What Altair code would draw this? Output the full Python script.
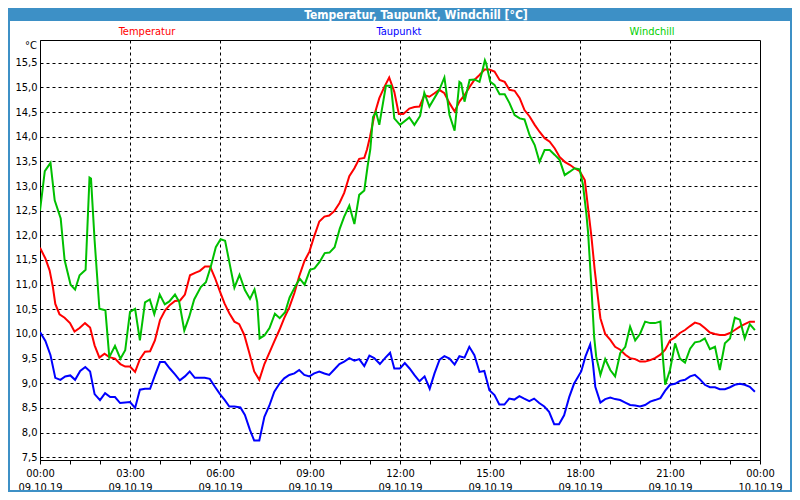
import altair as alt
import pandas as pd

# ---- data (hours since 09.10.19 00:00, °C) ----
temp_t = [0.0,0.18,0.32,0.43,0.51,0.65,0.82,1.0,1.15,1.32,1.5,1.67,1.82,1.98,2.15,2.31,2.5,2.68,2.84,3.0,
          3.17,3.33,3.5,3.67,3.83,4.0,4.17,4.33,4.5,4.67,4.83,5.0,5.17,5.33,5.5,5.67,5.83,6.0,6.15,6.31,
          6.48,6.64,6.81,6.98,7.14,7.31,7.48,7.64,7.81,7.98,8.14,8.31,8.48,8.64,8.81,8.98,9.14,9.31,9.48,9.64,
          9.81,9.98,10.14,10.31,10.48,10.64,10.81,10.9,11.0,11.15,11.31,11.48,11.64,11.81,11.96,12.11,12.31,12.48,12.65,12.81,
          12.98,13.15,13.31,13.48,13.65,13.82,13.98,14.15,14.32,14.48,14.65,14.82,14.98,15.15,15.32,15.49,15.65,15.82,15.99,16.15,
          16.32,16.49,16.65,16.82,16.99,17.16,17.32,17.49,17.66,17.82,17.99,18.16,18.27,18.38,18.49,18.58,18.68,18.84,19.01,19.17,
          19.34,19.51,19.67,19.84,20.0,20.17,20.34,20.5,20.68,20.84,21.0,21.17,21.33,21.5,21.67,21.83,22.0,22.16,22.33,22.5,
          22.66,22.83,23.0,23.16,23.33,23.49,23.66,23.83]
temp_v = [11.75,11.53,11.29,10.95,10.61,10.4,10.33,10.22,10.05,10.12,10.22,10.13,9.77,9.52,9.6,9.53,9.5,9.39,9.34,9.34,
          9.23,9.49,9.64,9.65,9.87,10.28,10.48,10.59,10.67,10.68,10.8,11.19,11.24,11.28,11.37,11.37,11.14,10.86,10.62,10.42,
          10.25,10.2,9.98,9.61,9.24,9.07,9.39,9.61,9.85,10.08,10.32,10.54,10.83,11.17,11.47,11.67,11.98,12.28,12.38,12.4,
          12.49,12.65,12.86,13.2,13.36,13.55,13.57,13.74,14.0,14.45,14.78,15.01,15.2,14.91,14.46,14.46,14.57,14.6,14.61,14.84,
          14.81,14.88,14.95,14.88,14.68,14.51,14.71,14.84,15.01,15.15,15.25,15.36,15.36,15.32,15.15,15.11,14.95,14.93,14.78,14.54,
          14.41,14.24,14.1,13.97,13.9,13.76,13.59,13.49,13.43,13.36,13.3,13.12,12.55,11.98,11.3,10.83,10.32,10.0,9.88,9.74,
          9.68,9.58,9.51,9.49,9.44,9.44,9.47,9.51,9.58,9.68,9.87,9.93,10.02,10.08,10.16,10.23,10.2,10.12,10.03,10.0,
          9.98,9.98,10.02,10.08,10.15,10.2,10.25,10.25]

dew_t = [0.0,0.18,0.35,0.51,0.68,0.84,1.01,1.17,1.34,1.51,1.67,1.82,2.0,2.17,2.34,2.5,2.67,2.84,3.0,3.17,
         3.33,3.5,3.67,3.83,4.0,4.16,4.33,4.5,4.66,4.83,4.99,5.16,5.33,5.49,5.66,5.83,6.0,6.16,6.31,6.48,
         6.68,6.83,7.0,7.14,7.31,7.48,7.64,7.81,7.98,8.14,8.31,8.48,8.64,8.81,8.98,9.14,9.31,9.48,9.64,9.81,
         9.98,10.14,10.31,10.48,10.64,10.81,10.98,11.14,11.33,11.5,11.67,11.81,12.0,12.16,12.32,12.49,12.65,12.82,12.99,13.15,
         13.32,13.48,13.65,13.82,13.98,14.15,14.31,14.48,14.65,14.81,14.98,15.15,15.31,15.48,15.64,15.81,15.98,16.14,16.31,16.47,
         16.64,16.81,16.97,17.14,17.3,17.47,17.64,17.8,18.04,18.18,18.34,18.43,18.51,18.68,18.84,19.01,19.17,19.34,19.51,19.67,
         19.84,20.0,20.17,20.34,20.5,20.68,20.84,21.0,21.17,21.33,21.5,21.67,21.83,22.0,22.16,22.33,22.5,22.66,22.83,23.0,
         23.16,23.33,23.49,23.66,23.83]
dew_v = [10.04,9.86,9.57,9.11,9.07,9.14,9.16,9.07,9.25,9.33,9.24,8.78,8.66,8.8,8.72,8.72,8.6,8.61,8.62,8.5,
         8.87,8.89,8.89,9.16,9.43,9.43,9.3,9.18,9.06,9.14,9.24,9.11,9.11,9.11,9.09,8.93,8.78,8.66,8.53,8.53,
         8.51,8.36,8.05,7.84,7.84,8.32,8.54,8.83,8.99,9.1,9.17,9.2,9.27,9.17,9.14,9.2,9.24,9.2,9.17,9.28,
         9.39,9.44,9.51,9.46,9.49,9.35,9.56,9.51,9.39,9.51,9.62,9.3,9.3,9.41,9.3,9.16,9.04,9.14,8.89,9.2,
         9.48,9.55,9.5,9.38,9.55,9.52,9.74,9.57,9.23,9.25,8.86,8.76,8.57,8.57,8.69,8.67,8.74,8.69,8.64,8.69,
         8.6,8.53,8.42,8.17,8.17,8.35,8.72,8.99,9.24,9.54,9.79,9.41,8.93,8.61,8.68,8.71,8.68,8.66,8.61,8.56,
         8.55,8.53,8.56,8.63,8.66,8.7,8.85,8.97,8.99,9.05,9.07,9.14,9.17,9.08,8.97,8.92,8.92,8.88,8.88,8.92,
         8.97,8.99,8.97,8.93,8.83]

wind_t = [0.0,0.16,0.35,0.49,0.69,0.82,1.02,1.17,1.32,1.52,1.65,1.7,1.82,1.98,2.18,2.31,2.5,2.68,2.84,3.0,
          3.17,3.33,3.5,3.66,3.81,3.99,4.16,4.31,4.5,4.64,4.81,4.97,5.14,5.36,5.53,5.69,5.86,6.02,6.17,6.48,
          6.65,6.83,7.0,7.15,7.24,7.32,7.48,7.65,7.83,7.99,8.17,8.32,8.52,8.66,8.82,9.0,9.15,9.32,9.49,9.65,
          9.82,9.99,10.14,10.31,10.48,10.64,10.81,10.92,11.01,11.1,11.2,11.31,11.53,11.7,11.81,12.0,12.31,12.48,12.67,12.81,
          12.98,13.31,13.48,13.65,13.82,13.98,14.04,14.15,14.32,14.48,14.65,14.74,14.83,14.87,15.01,15.15,15.32,15.49,15.65,15.82,
          15.99,16.15,16.32,16.49,16.65,16.82,16.99,17.16,17.32,17.49,17.66,17.82,17.99,18.1,18.21,18.27,18.38,18.47,18.54,18.68,
          18.84,19.01,19.17,19.34,19.51,19.67,19.84,20.0,20.17,20.34,20.5,20.68,20.76,20.84,21.0,21.17,21.33,21.5,21.67,21.83,
          22.0,22.16,22.33,22.5,22.66,22.83,23.0,23.16,23.33,23.49,23.66,23.83]
wind_v = [12.5,13.3,13.47,12.71,12.34,11.5,11.0,10.9,11.19,11.3,13.17,13.15,11.9,10.51,10.48,9.53,9.76,9.5,9.67,10.45,
          10.51,9.87,10.64,10.7,10.4,10.8,10.6,10.66,10.8,10.65,10.07,10.34,10.7,10.95,11.05,11.36,11.76,11.92,11.89,10.94,
          11.2,10.89,10.71,10.9,10.65,9.91,9.97,10.12,10.41,10.32,10.44,10.74,10.98,11.12,11.0,11.3,11.33,11.46,11.64,11.65,
          11.76,12.13,12.38,12.6,12.23,12.82,12.91,13.4,13.74,14.4,14.5,14.24,15.03,15.03,14.37,14.24,14.39,14.24,14.42,14.89,
          14.61,14.95,15.2,14.44,14.12,15.11,15.08,14.71,15.15,15.16,15.11,15.32,15.55,15.49,15.11,15.05,14.86,14.86,14.68,14.44,
          14.37,14.35,14.03,13.83,13.49,13.73,13.73,13.63,13.53,13.22,13.29,13.36,13.34,13.02,12.45,12.05,10.96,9.95,9.54,9.17,
          9.49,9.27,9.14,9.61,9.74,10.15,9.87,10.0,10.25,10.22,10.22,10.25,9.54,8.97,9.27,9.81,9.5,9.42,9.7,9.83,
          9.85,9.91,9.69,9.74,9.27,9.81,9.91,10.33,10.29,9.91,10.2,10.08]

series_names = ["Temperatur", "Taupunkt", "Windchill"]
series_colors = ["#ff0000", "#0000ff", "#00c000"]
y_ticks = [7.5 + 0.5 * i for i in range(17)]
x_ticks = list(range(25))

rows = []
for name, ts, vs in zip(series_names, [temp_t, dew_t, wind_t], [temp_v, dew_v, wind_v]):
    for t, v in zip(ts, vs):
        rows.append({"series": name, "h": t, "v": v})
df = pd.DataFrame(rows)

FONT = "Tahoma, 'DejaVu Sans Condensed', 'DejaVu Sans', sans-serif"
BLUE = "#3d90c6"
W, H = 720, 420

lines = alt.Chart(df).mark_line(strokeWidth=2, clip=True).encode(
    x=alt.X("h:Q", scale=alt.Scale(domain=[0, 24], nice=False),
            axis=alt.Axis(values=x_ticks, title=None, tickSize=4, tickColor="black",
                          domainColor="black", labelColor="black", labelFont=FONT, labelFontSize=11,
                          labelPadding=3, labelLineHeight=14, labelFlush=False, labelOverlap=False,
                          labelExpr="datum.value % 3 == 0 ? [(datum.value == 24 ? '00' : (datum.value < 10 ? '0' : '') + datum.value) + ':00', datum.value == 24 ? '10.10.19' : '09.10.19'] : ''",
                          grid=True, gridColor="black", gridDash=[3, 3], gridWidth=1,
                          gridOpacity={"condition": {"test": "datum.value % 3 == 0 && datum.value > 0 && datum.value < 24", "value": 1}, "value": 0})),
    y=alt.Y("v:Q", scale=alt.Scale(domain=[7.445, 15.96], nice=False, zero=False),
            axis=alt.Axis(values=y_ticks, title=None, tickSize=0, labelPadding=3,
                          domainColor="black", labelColor="black", labelFont=FONT, labelFontSize=11,
                          labelExpr="replace(format(datum.value, '.1f'), '.', ',')",
                          grid=True, gridColor="black", gridDash=[3, 3], gridWidth=1)),
    color=alt.Color("series:N", scale=alt.Scale(domain=series_names, range=series_colors), legend=None),
    detail="series:N",
)

one = pd.DataFrame({"k": [0]})

title_bar = alt.Chart(one).mark_rect(color=BLUE).encode(
    x=alt.value(-32), x2=alt.value(752), y=alt.value(-32), y2=alt.value(-19))
left_border = alt.Chart(one).mark_rect(color=BLUE).encode(
    x=alt.value(-32), x2=alt.value(-30), y=alt.value(-32), y2=alt.value(452))
right_border = alt.Chart(one).mark_rect(color=BLUE).encode(
    x=alt.value(750), x2=alt.value(752), y=alt.value(-32), y2=alt.value(452))
bottom_border = alt.Chart(one).mark_rect(color=BLUE).encode(
    x=alt.value(-32), x2=alt.value(752), y=alt.value(450), y2=alt.value(452))

title_text = alt.Chart(one).mark_text(text="Temperatur, Taupunkt, Windchill [°C]", color="white",
                                      font=FONT, fontSize=12, fontWeight="bold",
                                      align="center", baseline="middle").encode(
    x=alt.value(376), y=alt.value(-25.5))

legend_x = [107, 359, 612]
legend_layers = []
for name, col, lx in zip(series_names, series_colors, legend_x):
    legend_layers.append(
        alt.Chart(one).mark_text(text=name, color=col if name != "Windchill" else "#00d000",
                                 font=FONT, fontSize=11, align="center", baseline="middle").encode(
            x=alt.value(lx), y=alt.value(-8)))

unit_text = alt.Chart(one).mark_text(text="°C", color="black", font=FONT, fontSize=11,
                                     align="center", baseline="middle").encode(
    x=alt.value(-9), y=alt.value(6))

chart = alt.layer(lines, title_bar, left_border, right_border, bottom_border,
                  title_text, unit_text, *legend_layers).properties(
    width=W, height=H,
    autosize=alt.AutoSizeParams(type="none"),
    padding={"left": 32, "top": 32, "right": 32, "bottom": 32},
    background="white",
).configure_view(stroke="black", strokeWidth=1, fill="white")

chart.save("out.html", embed_options={"renderer": "svg", "actions": False})
